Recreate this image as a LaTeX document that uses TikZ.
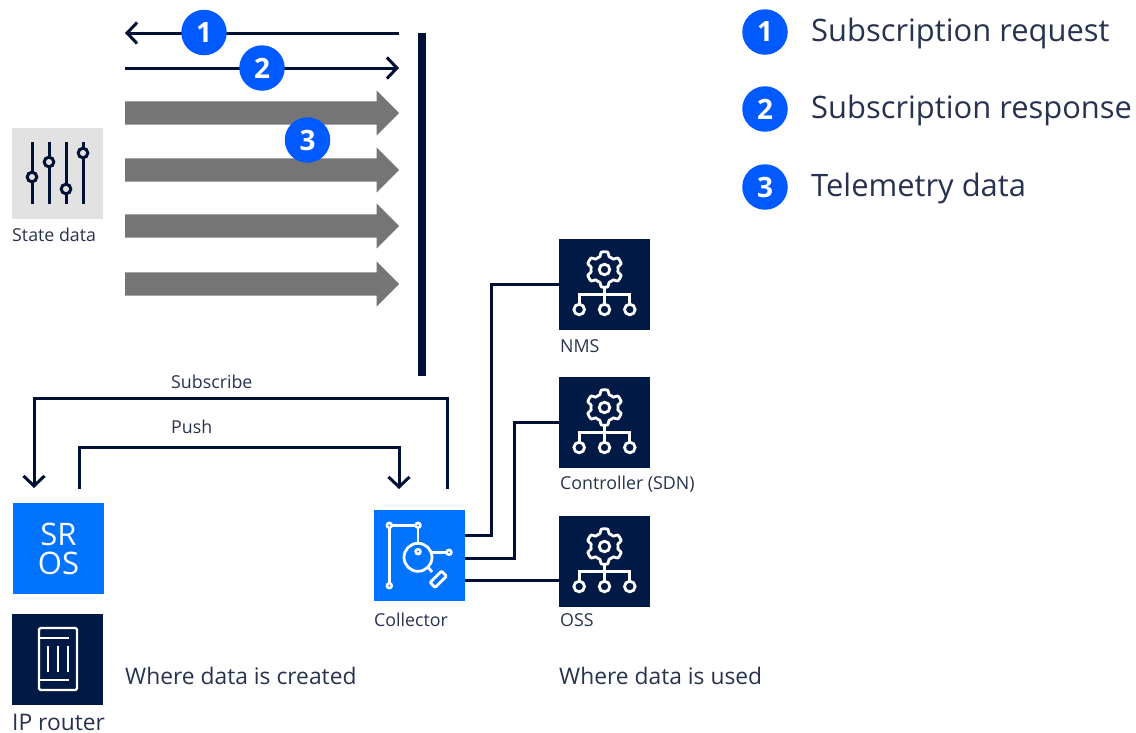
\documentclass[tikz,border=0pt]{standalone}
\usepackage{fontspec}
\setmainfont{Open Sans}
\usetikzlibrary{shapes.arrows,arrows.meta}
\definecolor{navyline}{HTML}{001135}
\definecolor{navytile}{HTML}{001A45}
\definecolor{textnavy}{HTML}{27324F}
\definecolor{badgeblue}{HTML}{005AFF}
\definecolor{tileblue}{HTML}{0073FF}
\definecolor{tilegrey}{HTML}{E2E2E2}
\definecolor{arrowgrey}{HTML}{757575}
\tikzset{
  flow/.style={navyline,line width=3pt},
  flowtip/.style={-{Straight Barb[length=10pt,width=21pt,line width=3pt]}},
  tile/.style={minimum size=91pt,inner sep=0pt,fill=#1},
  badge/.style={circle,fill=badgeblue,minimum size=45.5pt,inner sep=0pt,text=white,font=\fontsize{28}{28}\selectfont\bfseries},
  dataarrow/.style={single arrow,fill=arrowgrey,minimum height=274pt,minimum width=45pt,inner xsep=0pt,inner ysep=11.5pt,single arrow head extend=11pt,single arrow tip angle=90,anchor=tail},
  smalltext/.style={anchor=base west,inner sep=0pt,text=textnavy,font=\fontsize{17.8}{17.8}\selectfont},
  bigtext/.style={anchor=base west,inner sep=0pt,text=textnavy,font=\fontsize{22.8}{22.8}\selectfont},
  legendtext/.style={anchor=base west,inner sep=0pt,text=textnavy,font=\fontsize{30.9}{30.9}\selectfont},
  gearicon/.pic={
    \draw[white,line width=2.8pt,line join=round] plot[domain=0:360,samples=181,smooth] ({(15.6-2.1*max(min(2.2*cos(6*\x),1),-1))*cos(\x)},{-15+(15.6-2.1*max(min(2.2*cos(6*\x),1),-1))*sin(\x)});
    \draw[white,line width=2.8pt] (0,-15) circle [radius=5.3];
    \draw[white,line width=2.8pt] (0,3) -- (0,19.5);
    \draw[white,line width=2.8pt] (-25.3,19.5) -- (-25.3,10) -- (25.3,10) -- (25.3,19.5);
    \draw[white,line width=2.8pt] (-25.3,25) circle [radius=5.3];
    \draw[white,line width=2.8pt] (0,25) circle [radius=5.3];
    \draw[white,line width=2.8pt] (25.3,25) circle [radius=5.3];
  }
}
\begin{document}
\begin{tikzpicture}[x=1pt,y=-1pt]
\useasboundingbox (0,0) rectangle (1136,732);

\node[tile=tilegrey] (state) at (57.5,173.5) {};
\node[tile=tileblue,text=white,align=center,font=\fontsize{31}{29}\selectfont] (sros) at (58.5,548.5) {SR\\OS};
\node[tile=navytile] (router) at (57.5,659.5) {};
\node[tile=tileblue] (collector) at (419.5,555.5) {};
\node[tile=navytile] (nms) at (604.5,284.5) {};
\node[tile=navytile] (controller) at (604.5,422.5) {};
\node[tile=navytile] (oss) at (604.5,561.5) {};

\foreach \name/\y in {dataa/113,datab/170,datac/226,datad/284}
  \node[dataarrow] (\name) at (125,\y) {};

\coordinate (bartop) at (422,33);
\coordinate (barbottom) at (422,376);
\draw[navyline,line width=8pt] (bartop) -- (barbottom);

\coordinate (reqstart) at (399,33);
\coordinate (reqend) at (125,33);
\coordinate (respstart) at (125,68);
\coordinate (respend) at (399,68);
\draw[flow,flowtip] (reqstart) -- (reqend);
\draw[flow,flowtip] (respstart) -- (respend);

\node[badge] (one) at (204,32.5) {1};
\node[badge] (two) at (262,68) {2};
\node[badge] (three) at (307.5,140) {3};
\node[badge] (legendone) at (765,32) {1};
\node[badge] (legendtwo) at (765,109) {2};
\node[badge] (legendthree) at (765,187) {3};

\node[legendtext] (reqtext) at (811,41) {Subscription request};
\node[legendtext] (resptext) at (811,118) {Subscription response};
\node[legendtext] (teltext) at (811,196) {Telemetry data};

\foreach \x/\y in {32/177,49/162,66/189,83/153}{
  \draw[navyline,line width=3pt] (\x,142) -- (\x,204);
  \draw[navyline,line width=3pt,fill=tilegrey] (\x,\y) circle [radius=4.8];
}
\node[smalltext] (statetext) at (12,241) {State data};

\coordinate (subout) at (447,489);
\coordinate (subin) at (34,488);
\coordinate (pushout) at (79,489);
\coordinate (pushin) at (399,489);
\draw[flow,flowtip] (subout) -- (447,398) -| (subin);
\draw[flow,flowtip] (pushout) -- (79,447) -| (pushin);
\node[smalltext] (subtext) at (171,388) {Subscribe};
\node[smalltext] (pushtext) at (171,433) {Push};

\draw[flow] ([shift={(0,-20)}]collector.east) -| (491,284.5) -- (nms.west);
\draw[flow] ([shift={(0,2.5)}]collector.east) -| (514,422.5) -- (controller.west);
\draw[flow] ([shift={(0,24.5)}]collector.east) -- ([shift={(0,18.5)}]oss.west);

\pic at (nms) {gearicon};
\pic at (controller) {gearicon};
\pic at (oss) {gearicon};

\draw[white,line width=2.2pt,rounded corners=1.5pt] (39,628) rectangle (77,690);
\draw[white,line width=2.2pt] (39,638) -- (69,638);
\draw[white,line width=2.2pt] (39,680) -- (69,680);
\draw[white,line width=2.2pt] (47.7,646) -- (47.7,672);
\draw[white,line width=2.2pt] (57.7,646) -- (57.7,672);
\draw[white,line width=2.2pt] (68,646) -- (68,672);

\draw[white,line width=2.8pt] (389.3,585.7) -- (389.3,525.3) -- (418,525.3) -- (418,543);
\draw[white,line width=2.8pt] (418,557.3) circle [radius=14];
\draw[white,line width=2.8pt] (432,552.3) -- (449,552.3);
\draw[white,line width=2.8pt] (428,567) -- (432,572);
\draw[white,line width=2.8pt,rounded corners=1pt,rotate around={45:(438.3,579.3)}] (430.3,575.8) rectangle (446.3,582.8);
\foreach \x/\y in {389.3/525.3,418/525.3,389.3/585.7,449/552.3,418/551.7}{
  \fill[white] (\x,\y) circle [radius=3.8];
  \fill[tileblue] (\x,\y) circle [radius=1];
}

\node[smalltext] (nmstext) at (560,352) {NMS};
\node[smalltext] (controllertext) at (560,489) {Controller (SDN)};
\node[smalltext] (osstext) at (560,626) {OSS};
\node[smalltext] (collectortext) at (374,626) {Collector};
\node[bigtext] (routertext) at (12,730) {IP router};
\node[bigtext] (createdtext) at (125,684) {Where data is created};
\node[bigtext] (usedtext) at (559,684) {Where data is used};
\end{tikzpicture}
\end{document}
